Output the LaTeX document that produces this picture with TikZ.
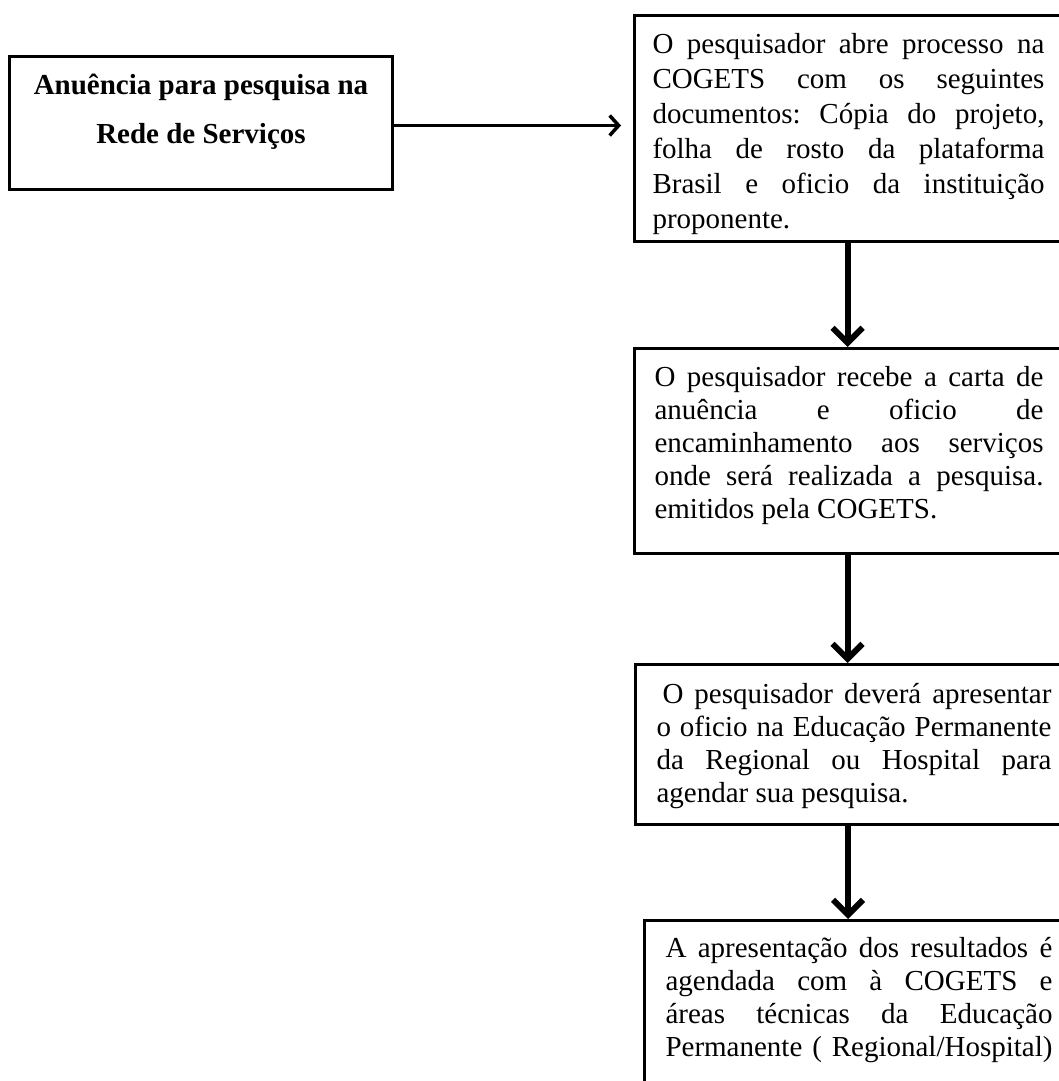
\documentclass[tikz,border=0pt]{standalone}
\usepackage{fontspec}
\setmainfont[Ligatures=CommonOff]{Liberation Serif}
\usetikzlibrary{arrows.meta}
\frenchspacing

% Box body: fixed-size vertical box with hand-broken, justified lines
\newlength\padL
\newlength\textW
\newcommand{\boxbody}[7]{%
  \vbox to #2{\hsize=#1\relax\padL=#4\relax\textW=#5\relax
    \baselineskip=#6\relax
    \hrule height 0pt depth 0pt width #1\relax
    \vskip#3\relax #7\vss}}
\newcommand{\justln}[1]{\moveright\padL\hbox to\textW{\rule{0pt}{22pt}#1}}
\newcommand{\lastln}[1]{\moveright\padL\hbox to\textW{\rule{0pt}{22pt}#1\hfil}}
\newcommand{\centln}[1]{\hbox to\hsize{\hfil\rule{0pt}{22pt}#1\hfil}}

\tikzset{
  flowbox/.style={draw, line width=3pt, inner sep=0pt, anchor=north west,
    font=\fontsize{29pt}{33pt}\selectfont},
  hlink/.style={line width=3.5pt, -{Straight Barb[length=9pt,width=20pt]},
    shorten >=12pt},
  vlink/.style={line width=6pt, -{Straight Barb[length=15pt,width=30pt]}}
}

\begin{document}
\begin{tikzpicture}[x=1pt,y=1pt]
\useasboundingbox (0,0) rectangle (1059,-1081);

\node[flowbox, font=\fontsize{29pt}{49pt}\selectfont\bfseries] (b0) at (8,-55)
  {\boxbody{383pt}{133pt}{16pt}{0pt}{383pt}{49pt}{%
    \centln{Anuência para pesquisa na}
    \centln{Rede de Serviços}}};

\node[flowbox] (b1) at (633,-14)
  {\boxbody{426pt}{226pt}{16pt}{18pt}{392pt}{35pt}{%
    \justln{O pesquisador abre processo na}
    \justln{COGETS com os seguintes}
    \justln{documentos: Cópia do projeto,}
    \justln{folha de rosto da plataforma}
    \justln{Brasil e oficio da instituição}
    \lastln{proponente.}}};

\node[flowbox] (b2) at (633,-347)
  {\boxbody{426pt}{205pt}{16pt}{20pt}{389pt}{33pt}{%
    \justln{O pesquisador recebe a carta de}
    \justln{anuência e oficio de}
    \justln{encaminhamento aos serviços}
    \justln{onde será realizada a pesquisa.}
    \lastln{emitidos pela COGETS.}}};

\node[flowbox] (b3) at (634,-663)
  {\boxbody{425pt}{160pt}{17pt}{21pt}{395pt}{33pt}{%
    \justln{\kern6pt O pesquisador deverá apresentar}
    \justln{o oficio na Educação Permanente}
    \justln{da Regional ou Hospital para}
    \lastln{agendar sua pesquisa.}}};

\node[flowbox] (b4) at (643,-919)
  {\boxbody{416pt}{190pt}{15pt}{21pt}{387pt}{33pt}{%
    \justln{A apresentação dos resultados é}
    \justln{agendada com à COGETS e}
    \justln{áreas técnicas da Educação}
    \justln{Permanente ( Regional/Hospital)}}};

\coordinate (h0) at ([yshift=-2.5pt]b0.east);
\draw[hlink] (h0) -- (h0 -| b1.west);
\draw[vlink] (b1.south) -- (b1.south |- b2.north);
\draw[vlink] (b2.south) -- (b2.south |- b3.north);
\draw[vlink] (b3.south) -- (b3.south |- b4.north);
\end{tikzpicture}
\end{document}
